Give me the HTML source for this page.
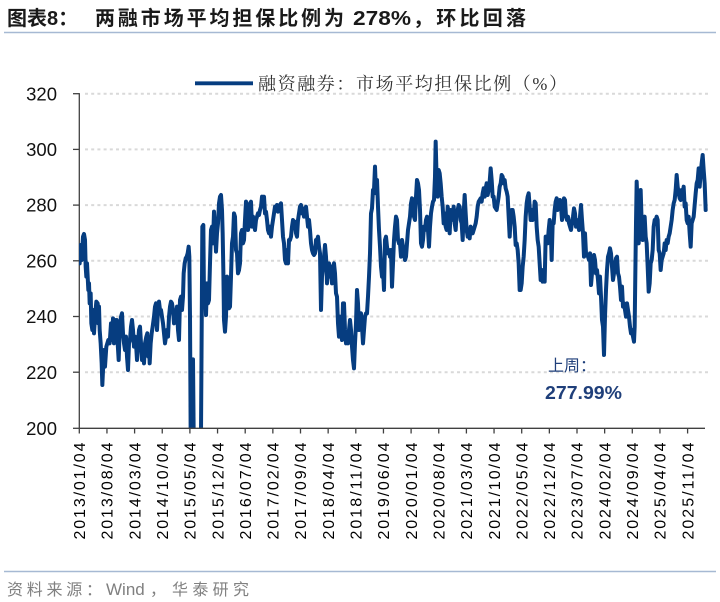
<!DOCTYPE html>
<html><head><meta charset="utf-8">
<style>
html,body{margin:0;padding:0;background:#fff;}
body{width:720px;height:602px;overflow:hidden;}
svg{display:block;}
.t{font-family:"Liberation Sans","Noto Sans CJK SC",sans-serif;}
.s{font-family:"Liberation Serif","Noto Serif CJK SC",serif;}
</style></head>
<body>
<svg width="720" height="602" viewBox="0 0 720 602" xmlns="http://www.w3.org/2000/svg">
<defs>
<clipPath id="pc" clipPathUnits="userSpaceOnUse"><rect x="79" y="80" width="640" height="348.3"/></clipPath>
</defs>
<!-- title -->
<text class="t" x="7" y="25" font-size="20" font-weight="bold" fill="#1a1a1a">图表8：</text>
<text class="t" x="95" y="25" font-size="20" font-weight="bold" fill="#1a1a1a" textLength="249" lengthAdjust="spacing">两融市场平均担保比例为</text>
<text class="t" x="353" y="25" font-size="20" font-weight="bold" fill="#1a1a1a" textLength="58" lengthAdjust="spacingAndGlyphs">278%</text>
<text class="t" x="413" y="25" font-size="20" font-weight="bold" fill="#1a1a1a" textLength="113" lengthAdjust="spacing">，环比回落</text>
<line x1="4" y1="32.5" x2="716" y2="32.5" stroke="#a6b9d3" stroke-width="1.6"/>

<!-- legend -->
<line x1="195" y1="83.3" x2="253" y2="83.3" stroke="#063d80" stroke-width="3.8"/>
<text class="s" x="258" y="90" font-size="18" fill="#333" textLength="309" lengthAdjust="spacing">融资融券：市场平均担保比例（%）</text>

<!-- gridlines -->
<g stroke="#d9d9d9" stroke-width="2" stroke-dasharray="3 3.2">
<line x1="85" y1="93.7" x2="708" y2="93.7"/>
<line x1="85" y1="149.4" x2="708" y2="149.4"/>
<line x1="85" y1="205.1" x2="708" y2="205.1"/>
<line x1="85" y1="260.8" x2="708" y2="260.8"/>
<line x1="85" y1="316.5" x2="708" y2="316.5"/>
<line x1="85" y1="372.2" x2="708" y2="372.2"/>
</g>

<!-- y axis -->
<g stroke="#404040" stroke-width="1.3">
<line x1="79.3" y1="93.1" x2="79.3" y2="428.3"/>
<line x1="73" y1="93.7" x2="79.3" y2="93.7"/>
<line x1="73" y1="149.4" x2="79.3" y2="149.4"/>
<line x1="73" y1="205.1" x2="79.3" y2="205.1"/>
<line x1="73" y1="260.8" x2="79.3" y2="260.8"/>
<line x1="73" y1="316.5" x2="79.3" y2="316.5"/>
<line x1="73" y1="372.2" x2="79.3" y2="372.2"/>
<line x1="73" y1="428.3" x2="79.3" y2="428.3"/>
</g>
<g class="t" font-size="18.5" fill="#111" text-anchor="end">
<text x="57" y="100.3">320</text>
<text x="57" y="156">300</text>
<text x="57" y="211.7">280</text>
<text x="57" y="267.4">260</text>
<text x="57" y="323.1">240</text>
<text x="57" y="378.8">220</text>
<text x="57" y="434.8">200</text>
</g>

<!-- series -->
<g clip-path="url(#pc)" fill="none" stroke="#063d80" stroke-width="4" stroke-linejoin="round" stroke-linecap="round">
<g transform="translate(79,130) scale(0.333333)">
<polyline vector-effect="non-scaling-stroke" points="2,400 5,345 8,390 12,320 15,312 18,330 20,410 22,440 24,400 28,480 30,460 32,520 35,490 37,580 40,600 42,540 45,610 48,560 52,515 56,520 58,580 60,530 62,600 65,640 68,700 70,765 73,700 75,660 78,710 82,650 85,640 88,630 92,640 96,580 99,630 102,565 105,640 108,570 111,620 113,570 116,640 119,690 122,600 126,560 129,550 132,610 135,640 138,660 141,620 144,680 147,720 150,640 153,630 156,590 159,570 162,600 165,650 168,620 171,640 174,690 177,640 180,600 183,590 186,640 189,690 192,660 195,700 198,640 202,620 205,610 208,680 210,640 212,700 215,640 218,610 221,590 225,560 228,530 231,520 234,600 237,540 240,515 243,540 246,540 249,560 252,580 255,610 258,640 261,620 264,600 267,620 270,560 273,530 276,515 279,520 282,540 285,580 288,560 291,570 294,530 297,600 300,630 303,510 306,500 309,540 312,500 314,430 317,400 320,385 323,380 326,370 329,350 331,380 333,560 335,910 337,910 338,688 342,688 344,910 366,910 368,600 370,290 373,285 375,510 378,460 381,555 384,460 387,520 390,510 393,400 396,300 399,290 402,340 405,245 408,300 411,365 414,310 417,280 420,220 423,200 426,195 429,240 431,310 433,420 435,570 438,605 441,560 444,440 447,530 450,535 453,530 456,440 459,340 462,320 465,250 468,260 471,360 474,370 477,430 480,420"/>
</g>
<g transform="translate(239,130) scale(0.333333)">
<polyline vector-effect="non-scaling-stroke" points="0,420 3,400 6,310 9,300 12,340 15,330 18,270 21,215 24,250 27,300 30,280 33,220 36,215 39,290 42,260 45,280 48,300 51,270 54,260 57,250 60,255 63,240 66,230 69,200 72,205 75,200 78,250 81,245 84,270 87,300 90,310 93,290 96,320 99,290 102,270 105,250 108,230 111,240 114,225 117,245 120,240 123,225 126,220 129,270 132,320 135,340 138,390 141,400 144,360 147,400 150,330 153,330 156,320 159,290 162,270 165,280 168,275 171,310 174,320 177,270 180,250 183,230 186,225 189,250 192,235 195,260 198,240 201,230 204,260 207,290 210,270 213,300 216,340 219,360 222,370 225,375 228,370 231,330 234,330 237,320 240,350 243,370 246,540 249,440 252,410 255,380 258,345 261,380 264,460 267,420 270,400 273,440 276,410 279,460 282,410 285,400 288,430 291,490 294,500 297,580 300,620 303,560 306,600 309,630 312,520 315,520 318,600 321,640 324,610 327,640 330,600 333,570 336,600 339,650 342,690 345,715 348,640 351,580 354,480 357,520 360,600 363,560 366,550 369,590 372,640 375,600 378,560 381,550 384,550 387,500 390,440 393,370 396,250 399,235 402,180 405,180 408,110 411,190 414,150 417,230 420,300 423,350 426,410 429,440 432,420 435,480 438,330 441,320 444,350 447,370 450,360 453,380 456,360 459,470 462,400 465,330 468,290 471,260 474,270 477,330 480,340"/>
</g>
<g transform="translate(399,130) scale(0.333333)">
<polyline vector-effect="non-scaling-stroke" points="0,340 3,340 6,380 9,330 12,350 15,370 18,390 21,380 24,340 27,300 30,280 33,260 36,220 39,205 42,210 45,260 48,270 51,200 54,150 57,160 60,180 63,240 66,340 69,350 72,330 75,290 78,300 81,270 84,260 87,300 90,350 93,290 96,250 99,230 102,215 105,210 108,140 110,35 113,150 116,200 119,120 122,130 125,160 128,200 131,230 134,280 137,250 140,290 143,300 146,230 149,250 152,310 155,240 158,270 161,260 164,230 167,280 170,300 173,250 176,240 179,225 182,230 185,270 188,280 191,330 194,250 197,195 200,250 203,300 206,320 209,300 212,325 215,290 218,300 221,310 224,300 227,290 230,280 233,260 236,230 239,215 242,210 245,205 248,215 251,190 254,175 257,200 260,175 263,160 266,195 269,180 272,155 275,115 278,150 281,200 284,200 287,230 290,235 293,240 296,220 299,200 302,170 305,160 308,135 311,140 314,160 317,150 320,175 323,185 326,200 329,260 332,320 335,260 338,240 341,240 344,260 347,290 350,345 353,340 356,360 359,400 362,480 365,480 368,460 371,410 374,380 377,330 380,260 383,220 386,200 389,190 392,230 395,270 398,240 401,270 404,260 407,215 410,220 413,290 416,330 419,350 422,400 425,450 428,420 431,455 434,420 437,455 440,320 443,320 446,340 449,300 452,270 455,290 458,390 461,280 464,280 467,240 470,215 473,205 476,240 480,230"/>
</g>
<g transform="translate(559,140) scale(0.333333)">
<polyline vector-effect="non-scaling-stroke" points="0,200 3,180 6,200 9,240 12,200 15,175 18,180 21,230 24,240 27,230 30,250 33,260 36,270 39,250 42,230 45,205 48,220 51,260 54,240 57,250 60,270 63,230 66,195 69,240 72,280 75,350 78,280 81,340 84,345 87,350 90,360 93,340 96,435 99,400 102,380 105,345 108,360 111,400 114,390 117,420 120,460 123,410 126,470 129,540 132,560 135,645 138,530 141,450 144,390 147,350 150,340 153,325 156,340 159,380 162,420 165,400 168,375 171,355 174,350 177,400 180,410 183,440 186,480 189,440 192,500 195,490 198,510 201,530 204,490 207,510 210,530 213,560 216,580 219,570 222,590 225,605 227,560 229,400 231,250 233,125 236,200 239,310 242,250 245,150 248,250 251,300 254,240 257,230 260,290 263,310 266,380 269,455 272,430 275,370 278,360 281,330 284,260 287,240 290,240 293,230 296,240 299,330 302,340 305,390 308,360 311,350 314,340 317,310 320,330 323,300 326,310 329,290 332,280 335,260 338,240 341,210 344,190 347,180 350,150 353,105 356,140 359,160 362,175 365,180 368,150 371,160 374,140 377,200 380,190 383,240 386,250 389,230 392,280 395,320 398,250 401,240 404,230 407,195 410,160 413,130 416,120 419,85 422,140 425,100 428,70 431,45 434,90 437,130 440,210"/>
</g>
</g>

<!-- x axis -->
<g stroke="#404040" stroke-width="1.3">
<line x1="79.3" y1="428.3" x2="705" y2="428.3"/>
<line x1="79.3" y1="428.3" x2="79.3" y2="433.5"/>
<line x1="106.95" y1="428.3" x2="106.95" y2="433.5"/>
<line x1="134.6" y1="428.3" x2="134.6" y2="433.5"/>
<line x1="162.25" y1="428.3" x2="162.25" y2="433.5"/>
<line x1="189.9" y1="428.3" x2="189.9" y2="433.5"/>
<line x1="217.55" y1="428.3" x2="217.55" y2="433.5"/>
<line x1="245.2" y1="428.3" x2="245.2" y2="433.5"/>
<line x1="272.85" y1="428.3" x2="272.85" y2="433.5"/>
<line x1="300.5" y1="428.3" x2="300.5" y2="433.5"/>
<line x1="328.15" y1="428.3" x2="328.15" y2="433.5"/>
<line x1="355.8" y1="428.3" x2="355.8" y2="433.5"/>
<line x1="383.45" y1="428.3" x2="383.45" y2="433.5"/>
<line x1="411.1" y1="428.3" x2="411.1" y2="433.5"/>
<line x1="438.75" y1="428.3" x2="438.75" y2="433.5"/>
<line x1="466.4" y1="428.3" x2="466.4" y2="433.5"/>
<line x1="494.05" y1="428.3" x2="494.05" y2="433.5"/>
<line x1="521.7" y1="428.3" x2="521.7" y2="433.5"/>
<line x1="549.35" y1="428.3" x2="549.35" y2="433.5"/>
<line x1="577" y1="428.3" x2="577" y2="433.5"/>
<line x1="604.65" y1="428.3" x2="604.65" y2="433.5"/>
<line x1="632.3" y1="428.3" x2="632.3" y2="433.5"/>
<line x1="659.95" y1="428.3" x2="659.95" y2="433.5"/>
<line x1="687.6" y1="428.3" x2="687.6" y2="433.5"/>
</g>
<g class="t" font-size="16" fill="#000">
<text transform="translate(85,539.5) rotate(-90)" textLength="97" lengthAdjust="spacing">2013/01/04</text>
<text transform="translate(112.65,539.5) rotate(-90)" textLength="97" lengthAdjust="spacing">2013/08/04</text>
<text transform="translate(140.3,539.5) rotate(-90)" textLength="97" lengthAdjust="spacing">2014/03/04</text>
<text transform="translate(167.95,539.5) rotate(-90)" textLength="97" lengthAdjust="spacing">2014/10/04</text>
<text transform="translate(195.6,539.5) rotate(-90)" textLength="97" lengthAdjust="spacing">2015/05/04</text>
<text transform="translate(223.25,539.5) rotate(-90)" textLength="97" lengthAdjust="spacing">2015/12/04</text>
<text transform="translate(250.9,539.5) rotate(-90)" textLength="97" lengthAdjust="spacing">2016/07/04</text>
<text transform="translate(278.55,539.5) rotate(-90)" textLength="97" lengthAdjust="spacing">2017/02/04</text>
<text transform="translate(306.2,539.5) rotate(-90)" textLength="97" lengthAdjust="spacing">2017/09/04</text>
<text transform="translate(333.85,539.5) rotate(-90)" textLength="97" lengthAdjust="spacing">2018/04/04</text>
<text transform="translate(361.5,539.5) rotate(-90)" textLength="97" lengthAdjust="spacing">2018/11/04</text>
<text transform="translate(389.15,539.5) rotate(-90)" textLength="97" lengthAdjust="spacing">2019/06/04</text>
<text transform="translate(416.8,539.5) rotate(-90)" textLength="97" lengthAdjust="spacing">2020/01/04</text>
<text transform="translate(444.45,539.5) rotate(-90)" textLength="97" lengthAdjust="spacing">2020/08/04</text>
<text transform="translate(472.1,539.5) rotate(-90)" textLength="97" lengthAdjust="spacing">2021/03/04</text>
<text transform="translate(499.75,539.5) rotate(-90)" textLength="97" lengthAdjust="spacing">2021/10/04</text>
<text transform="translate(527.4,539.5) rotate(-90)" textLength="97" lengthAdjust="spacing">2022/05/04</text>
<text transform="translate(555.05,539.5) rotate(-90)" textLength="97" lengthAdjust="spacing">2022/12/04</text>
<text transform="translate(582.7,539.5) rotate(-90)" textLength="97" lengthAdjust="spacing">2023/07/04</text>
<text transform="translate(610.35,539.5) rotate(-90)" textLength="97" lengthAdjust="spacing">2024/02/04</text>
<text transform="translate(638,539.5) rotate(-90)" textLength="97" lengthAdjust="spacing">2024/09/04</text>
<text transform="translate(665.65,539.5) rotate(-90)" textLength="97" lengthAdjust="spacing">2025/04/04</text>
<text transform="translate(693.3,539.5) rotate(-90)" textLength="97" lengthAdjust="spacing">2025/11/04</text>
</g>

<!-- annotation -->
<text class="t" x="548" y="371" font-size="16" fill="#1f3f7a">上周：</text>
<text class="t" x="545" y="399" font-size="18" font-weight="bold" fill="#1f3f7a" textLength="77" lengthAdjust="spacingAndGlyphs">277.99%</text>

<!-- source -->
<line x1="4" y1="571.5" x2="716" y2="571.5" stroke="#a6b9d3" stroke-width="1.6"/>
<text class="t" x="7" y="595" font-size="16" fill="#808080" textLength="95" lengthAdjust="spacing">资料来源：</text>
<text class="t" x="106" y="595" font-size="17" fill="#808080">Wind</text>
<text class="t" x="150" y="595" font-size="16" fill="#808080">，</text>
<text class="t" x="172" y="595" font-size="16" fill="#808080" textLength="77" lengthAdjust="spacing">华泰研究</text>
</svg>
</body></html>
